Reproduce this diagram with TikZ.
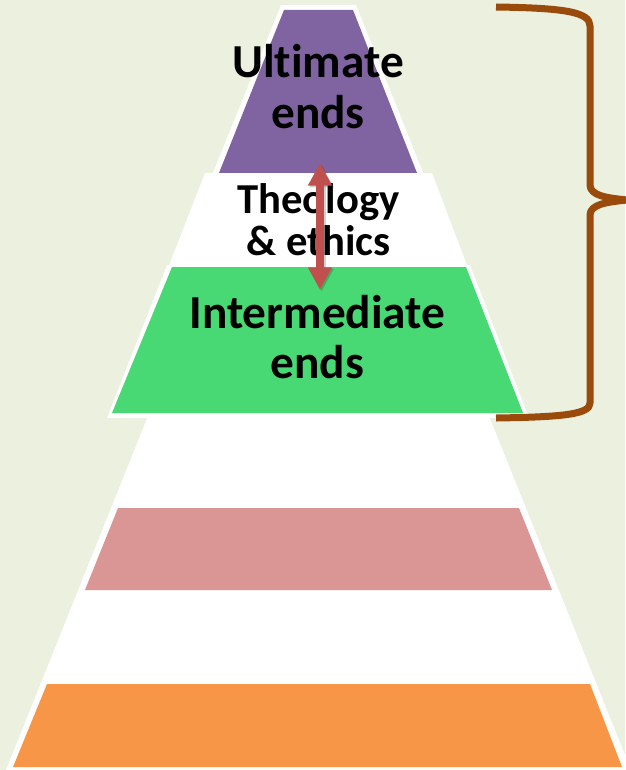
\documentclass[tikz,border=0pt]{standalone}
\usepackage{fontspec}
\setmainfont{Carlito}[Ligatures=CommonOff]
\usetikzlibrary{arrows.meta}
\definecolor{bgcol}{HTML}{EBF0DF}
\definecolor{purplelayer}{HTML}{8064A2}
\definecolor{greenlayer}{HTML}{48D874}
\definecolor{pinklayer}{HTML}{D99694}
\definecolor{orangelayer}{HTML}{F79646}
\definecolor{arrowred}{HTML}{C0504D}
\definecolor{bracebrown}{HTML}{9A4A0A}
\begin{document}
\begin{tikzpicture}[x=0.75pt,y=-0.75pt,
  bigtext/.style={font=\fontsize{35.5}{37.5}\selectfont\bfseries, align=center, inner sep=0pt, text=black},
  midtext/.style={font=\fontsize{32}{31.5}\selectfont\bfseries, align=center, inner sep=0pt, text=black},
  linkarrow/.style={draw=arrowred, line width=6pt, {Triangle[width=17pt,length=17pt]}-{Triangle[width=17pt,length=17pt]}},
  bracestyle/.style={draw=bracebrown, line width=5.25pt, line cap=butt, line join=round}]

% page background
\fill[bgcol] (0,0) rectangle (625,770);
\useasboundingbox (0,0) rectangle (625,770);

% upper pyramid: ultimate ends, theology band, intermediate ends
\fill[white] (281,5) -- (356,5) -- (424,175) -- (212,175) -- cycle;
\fill[purplelayer] (284,10) -- (353,10) -- (417,173) -- (219,173) -- cycle;
\fill[white] (205,173) -- (432,173) -- (468,268) -- (168,268) -- cycle;
\fill[white] (167,265) -- (470,265) -- (529,418) -- (107,418) -- cycle;
\fill[greenlayer] (172,267) -- (466,267) -- (523,413) -- (112,413) -- cycle;

% lower pyramid with its coloured bands
\fill[white] (148,416) -- (489,416) -- (631,770) -- (6,770) -- cycle;
\fill[pinklayer] (118,508) -- (519,508) -- (552,590) -- (85,590) -- cycle;
\fill[orangelayer] (47,684) -- (590,684) -- (622,767) -- (13,767) -- cycle;

% labels (base anchor sits on the last line); the kern keeps t and i apart
\node[bigtext, anchor=base] (ultimate) at (318,128) {Ult\kern0pt imate\\ends};
\node[midtext, anchor=base] (theology) at (318.5,255) {Theology\\\& ethics};
\node[bigtext, anchor=base] (intermediate) at (317.5,378) {Intermediate\\ends};

% two-way link between ultimate and intermediate ends
\coordinate (linktop) at (320,163);
\coordinate (linkbot) at (320,290);
\draw[linkarrow, draw=black, opacity=0.18, transform canvas={xshift=1.2pt,yshift=-1.2pt}] (linktop) -- (linkbot);
\draw[linkarrow] (linktop) -- (linkbot);

% brace spanning the upper pyramid
\draw[bracestyle] (496,7) .. controls (565,8) and (590,12) .. (590,26)
  -- (590,185) .. controls (590,196) and (608,198) .. (627,200)
  .. controls (608,202) and (590,204) .. (590,215)
  -- (590,403) .. controls (590,414) and (565,417) .. (496,418);
\end{tikzpicture}
\end{document}
